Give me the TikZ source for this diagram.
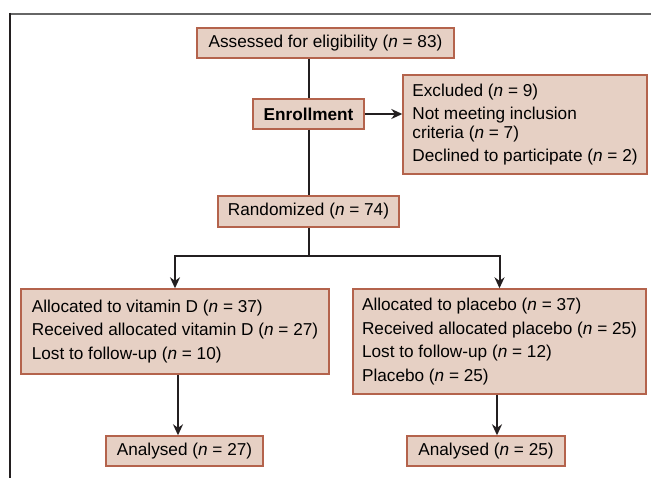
\documentclass[tikz,border=0pt]{standalone}
\usepackage{fontspec}
\setmainfont{Liberation Sans}
\usetikzlibrary{arrows.meta}
\definecolor{boxfill}{HTML}{E6D0C4}
\definecolor{boxline}{HTML}{B4634C}
\definecolor{linedark}{HTML}{231F20}
\newcommand{\nn}{\textit{n}}

\begin{document}
\begin{tikzpicture}[x=1pt,y=-1pt,
    box/.style={draw=boxline,fill=boxfill,line width=1.4pt,inner sep=0pt,
        font=\fontsize{17.2}{18.5}\selectfont},
    link/.style={line width=2pt,draw=linedark},
    arr/.style={link,-{Stealth[length=11pt,width=10pt]}}]
    \useasboundingbox (0,0) rectangle (651,478);
    \draw[gray!80!black,line width=2pt] (9,14) -- (651,14);
    \draw[linedark,line width=2pt] (10,13) -- (10,478);

    \node[box,minimum width=257,minimum height=30] (assess) at (325.5,43) {Assessed for eligibility (\nn{} = 83)};
    \node[box,minimum width=111,minimum height=30,font=\fontsize{17.2}{18.5}\selectfont\bfseries] (enrol) at (308.5,114) {Enrollment};
    \node[box,minimum width=244,minimum height=99,align=left] (excl) at (525,124.5)
        {Excluded (\nn{} = 9)\\[5pt] Not meeting inclusion\\ criteria (\nn{} = 7)\\[5pt] Declined to participate (\nn{} = 2)};
    \node[box,minimum width=181,minimum height=31] (rand) at (308.5,211.5) {Randomized (\nn{} = 74)};
    \node[box,minimum width=308,minimum height=85,align=left] (vitd) at (175,331.5)
        {Allocated to vitamin D (\nn{} = 37)\\[5pt] Received allocated vitamin D (\nn{} = 27)\\[5pt] Lost to follow-up (\nn{} = 10)};
    \node[box,minimum width=293,minimum height=105,align=left] (plac) at (499.5,341.5)
        {Allocated to placebo (\nn{} = 37)\\[5pt] Received allocated placebo (\nn{} = 25)\\[5pt] Lost to follow-up (\nn{} = 12)\\[5pt] Placebo (\nn{} = 25)};
    \node[box,minimum width=157,minimum height=30] (anvd) at (184.5,451) {Analysed (\nn{} = 27)};
    \node[box,minimum width=158,minimum height=30] (anpl) at (486,451) {Analysed (\nn{} = 25)};

    % trunk
    \draw[link] (assess.south -| enrol) -- (enrol.north);
    \draw[link] (enrol.south) -- (rand.north);
    \draw[arr] (enrol.east) -- (excl.west |- enrol.east);
    % split into the two arms
    \draw[link] (rand.south) -- ++(0,28) coordinate (split);
    \draw[arr] (split) -| (vitd.north);
    \draw[arr] (split) -| (plac.north);
    \draw[arr] ([xshift=3]vitd.south) -- ([xshift=3]vitd.south |- anvd.north);
    \draw[arr] ([xshift=-2.5]plac.south) -- ([xshift=-2.5]plac.south |- anpl.north);
\end{tikzpicture}
\end{document}
